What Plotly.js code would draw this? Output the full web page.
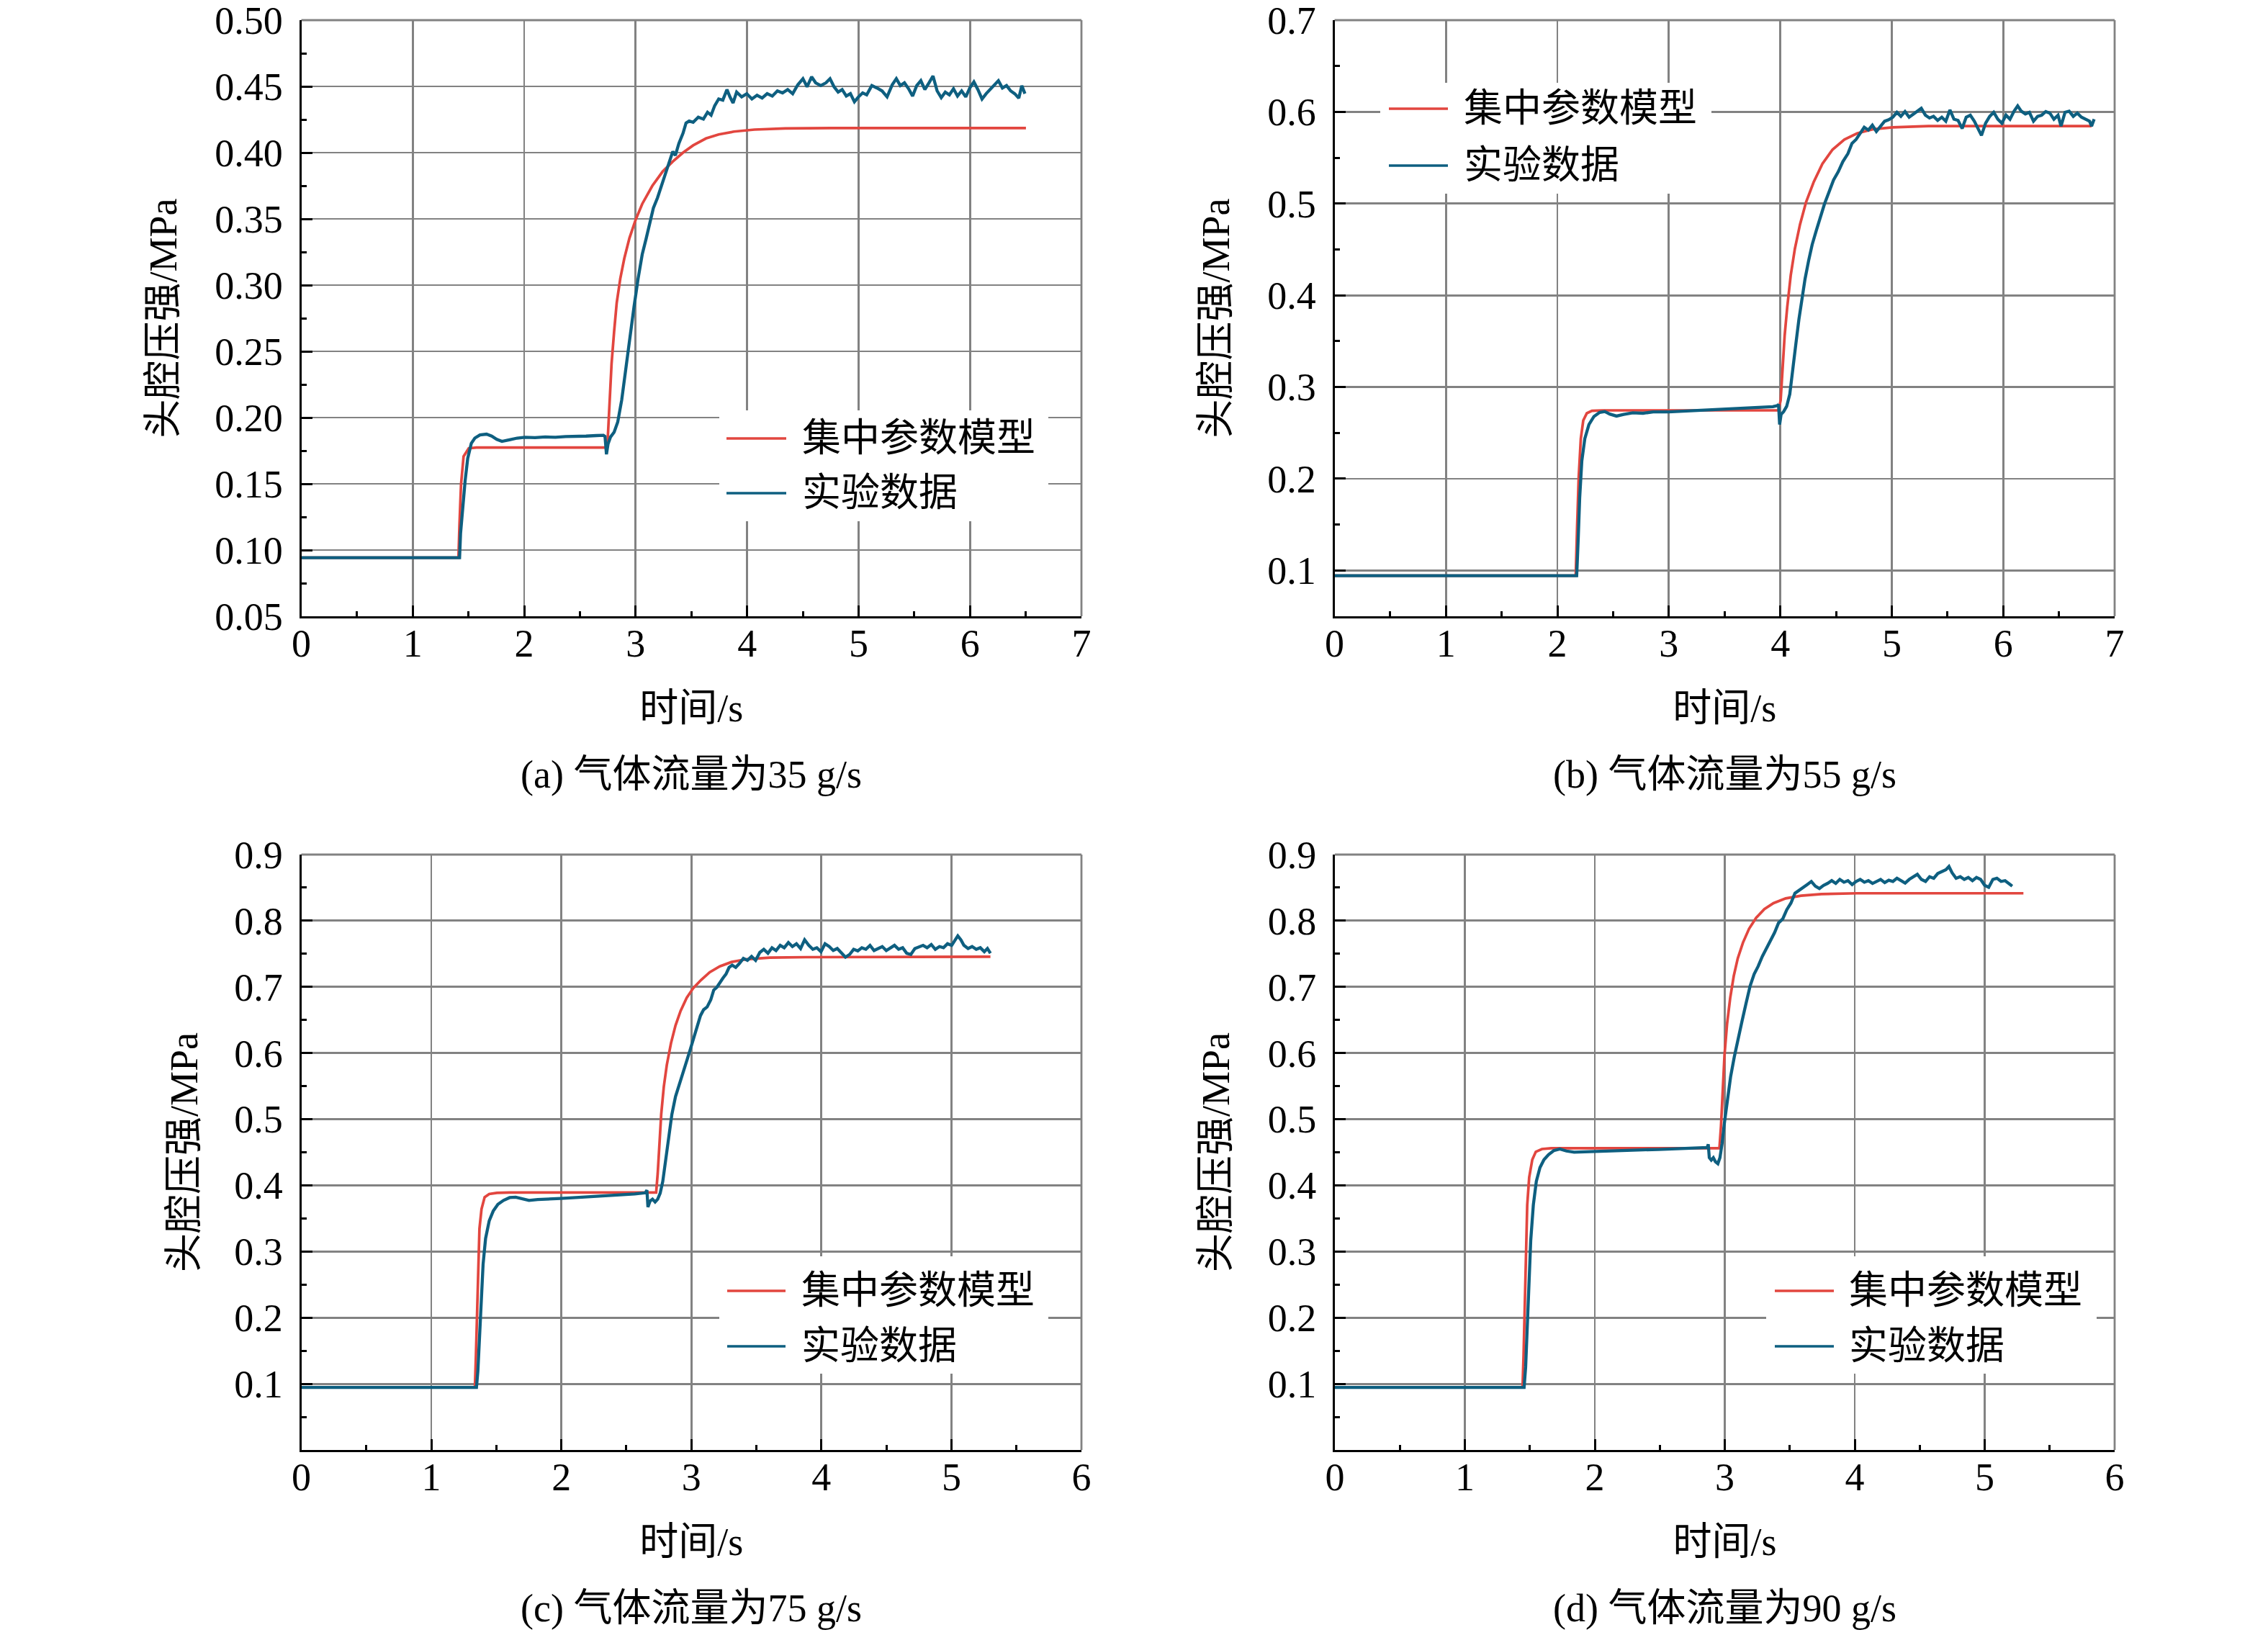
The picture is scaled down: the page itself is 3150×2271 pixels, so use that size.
<!DOCTYPE html>
<html>
<head>
<meta charset="utf-8">
<script src="https://cdn.plot.ly/plotly-3.0.1.min.js"></script>
<style>
html,body{margin:0;padding:0;background:#fff;}
#chart{width:3150px;height:2271px;}
</style>
</head>
<body>
<div id="chart"></div>
<script>
// ---------------- data: [time (s), pressure (MPa)] ----------------
const seriesNames = ['集中参数模型', '实验数据'];
const panelCaptions = ['(a) 气体流量为35 g/s', '(b) 气体流量为55 g/s', '(c) 气体流量为75 g/s', '(d) 气体流量为90 g/s'];
const xTitle = '时间/s';
const yTitle = '头腔压强/MPa';

const modelA = [[0,0.0942],[1.41,0.0942],[1.419,0.1189],[1.433,0.1494],[1.456,0.1707],[1.502,0.1768],[1.571,0.1774],[2.729,0.1774],[2.747,0.1799],[2.766,0.2104],[2.784,0.2409],[2.807,0.2652],[2.830,0.2866],[2.862,0.3049],[2.898,0.3201],[2.944,0.3354],[2.999,0.3491],[3.059,0.3613],[3.150,0.3750],[3.242,0.3857],[3.333,0.3933],[3.425,0.4000],[3.516,0.4055],[3.631,0.4107],[3.745,0.4137],[3.883,0.4159],[4.066,0.4174],[4.341,0.4183],[4.753,0.4186],[6.502,0.4186]];

const expA = [[0,0.0942],[1.42,0.0942],[1.429,0.1128],[1.447,0.1311],[1.470,0.1524],[1.493,0.1692],[1.525,0.1805],[1.557,0.1845],[1.603,0.1869],[1.662,0.1875],[1.708,0.1860],[1.754,0.1835],[1.800,0.1820],[1.868,0.1832],[1.937,0.1845],[2.005,0.1851],[2.097,0.1848],[2.189,0.1854],[2.280,0.1851],[2.372,0.1857],[2.463,0.1856],[2.555,0.1860],[2.647,0.1864],[2.711,0.1866],[2.725,0.1858],[2.738,0.1723],[2.752,0.1800],[2.775,0.1854],[2.807,0.1890],[2.839,0.1966],[2.875,0.2134],[2.912,0.2378],[2.949,0.2622],[2.985,0.2835],[3.022,0.3049],[3.059,0.3232],[3.095,0.3354],[3.127,0.3460],[3.159,0.3582],[3.196,0.3659],[3.233,0.3750],[3.269,0.3841],[3.306,0.3933],[3.333,0.4009],[3.356,0.3979],[3.388,0.4070],[3.425,0.4146],[3.452,0.4223],[3.480,0.4238],[3.516,0.4229],[3.562,0.4268],[3.608,0.4253],[3.645,0.4305],[3.677,0.4283],[3.709,0.4354],[3.745,0.4405],[3.782,0.4396],[3.819,0.4476],[3.846,0.4421],[3.874,0.4375],[3.906,0.4457],[3.951,0.4421],[3.997,0.4445],[4.043,0.4405],[4.089,0.4433],[4.135,0.4412],[4.180,0.4445],[4.226,0.4427],[4.272,0.4466],[4.318,0.4451],[4.364,0.4476],[4.409,0.4445],[4.455,0.4512],[4.501,0.4558],[4.538,0.4497],[4.579,0.4573],[4.615,0.4527],[4.661,0.4506],[4.707,0.4527],[4.744,0.4558],[4.780,0.4497],[4.817,0.4457],[4.853,0.4476],[4.890,0.4427],[4.927,0.4445],[4.963,0.4384],[5.000,0.4421],[5.037,0.4451],[5.073,0.4436],[5.119,0.4506],[5.165,0.4488],[5.211,0.4466],[5.256,0.4421],[5.302,0.4512],[5.339,0.4558],[5.375,0.4506],[5.412,0.4527],[5.449,0.4482],[5.485,0.4427],[5.522,0.4506],[5.559,0.4543],[5.595,0.4476],[5.632,0.4527],[5.668,0.4579],[5.705,0.4466],[5.742,0.4415],[5.778,0.4457],[5.815,0.4436],[5.852,0.4482],[5.888,0.4427],[5.925,0.4466],[5.962,0.4421],[5.998,0.4488],[6.035,0.4534],[6.071,0.4476],[6.108,0.4405],[6.145,0.4445],[6.181,0.4476],[6.218,0.4506],[6.255,0.4543],[6.291,0.4488],[6.328,0.4506],[6.365,0.4466],[6.401,0.4445],[6.438,0.4412],[6.465,0.4506],[6.493,0.4445]];

const modelB = [[0,0.0942],[2.164,0.0942],[2.177,0.1489],[2.191,0.2018],[2.210,0.2437],[2.232,0.2635],[2.264,0.2714],[2.310,0.2741],[2.402,0.2745],[3.984,0.2745],[4.003,0.2855],[4.021,0.3252],[4.039,0.3561],[4.062,0.3869],[4.094,0.4222],[4.131,0.4509],[4.177,0.4773],[4.231,0.5016],[4.300,0.5236],[4.378,0.5435],[4.469,0.5589],[4.575,0.5699],[4.689,0.5765],[4.826,0.5810],[5.009,0.5832],[5.329,0.5845],[6.793,0.5845]];

const expB = [[0,0.0942],[2.173,0.0942],[2.187,0.1356],[2.200,0.1797],[2.219,0.2194],[2.246,0.2437],[2.283,0.2591],[2.328,0.2679],[2.379,0.2723],[2.425,0.2732],[2.470,0.2705],[2.530,0.2683],[2.594,0.2701],[2.676,0.2719],[2.768,0.2714],[2.859,0.2728],[2.996,0.2728],[3.134,0.2736],[3.271,0.2741],[3.408,0.2754],[3.545,0.2758],[3.683,0.2767],[3.820,0.2776],[3.934,0.2785],[3.975,0.2798],[3.984,0.2811],[3.994,0.2591],[4.007,0.2701],[4.030,0.2732],[4.057,0.2789],[4.085,0.2921],[4.112,0.3164],[4.140,0.3473],[4.167,0.3737],[4.195,0.3980],[4.222,0.4178],[4.254,0.4377],[4.286,0.4553],[4.323,0.4707],[4.360,0.4862],[4.396,0.4994],[4.437,0.5126],[4.478,0.5258],[4.520,0.5347],[4.561,0.5457],[4.607,0.5545],[4.643,0.5655],[4.680,0.5699],[4.716,0.5765],[4.753,0.5832],[4.790,0.5801],[4.826,0.5854],[4.862,0.5787],[4.899,0.5845],[4.936,0.5898],[4.973,0.5915],[5.009,0.5942],[5.046,0.5995],[5.082,0.5951],[5.119,0.6004],[5.156,0.5942],[5.192,0.5973],[5.229,0.6008],[5.265,0.6039],[5.302,0.5964],[5.339,0.5933],[5.375,0.5951],[5.412,0.5907],[5.449,0.5942],[5.485,0.5898],[5.522,0.6021],[5.558,0.5920],[5.595,0.5907],[5.632,0.5818],[5.668,0.5942],[5.705,0.5964],[5.741,0.5898],[5.778,0.5818],[5.805,0.5743],[5.842,0.5876],[5.879,0.5951],[5.915,0.5995],[5.952,0.5920],[5.988,0.5876],[6.025,0.5964],[6.061,0.5920],[6.098,0.6008],[6.130,0.6065],[6.162,0.6008],[6.199,0.5977],[6.235,0.5995],[6.272,0.5898],[6.309,0.5951],[6.345,0.5964],[6.382,0.6004],[6.419,0.5986],[6.455,0.5920],[6.492,0.5964],[6.519,0.5845],[6.555,0.5995],[6.592,0.6008],[6.629,0.5951],[6.665,0.5986],[6.702,0.5942],[6.738,0.5920],[6.775,0.5898],[6.793,0.5845],[6.816,0.5920]];

const modelC = [[0,0.0945],[1.335,0.0945],[1.343,0.1434],[1.351,0.2031],[1.358,0.2747],[1.370,0.3344],[1.386,0.3642],[1.410,0.3821],[1.445,0.3869],[1.504,0.3887],[1.602,0.3893],[2.729,0.3893],[2.741,0.4179],[2.752,0.4597],[2.768,0.5074],[2.788,0.5492],[2.811,0.5820],[2.843,0.6148],[2.878,0.6417],[2.917,0.6637],[2.964,0.6834],[3.015,0.6983],[3.074,0.7103],[3.141,0.7222],[3.219,0.7311],[3.310,0.7377],[3.428,0.7419],[3.604,0.7443],[3.879,0.7449],[5.300,0.7455]];

const expC = [[0,0.0945],[1.347,0.0945],[1.358,0.1196],[1.370,0.1733],[1.382,0.2270],[1.398,0.2807],[1.417,0.3195],[1.445,0.3463],[1.476,0.3612],[1.512,0.3714],[1.555,0.3773],[1.602,0.3815],[1.649,0.3821],[1.700,0.3791],[1.751,0.3773],[1.818,0.3785],[1.896,0.3797],[1.995,0.3803],[2.112,0.3815],[2.230,0.3827],[2.348,0.3839],[2.466,0.3857],[2.564,0.3869],[2.646,0.3887],[2.658,0.3928],[2.666,0.3672],[2.682,0.3761],[2.701,0.3791],[2.721,0.3749],[2.741,0.3791],[2.760,0.3881],[2.780,0.4060],[2.803,0.4418],[2.827,0.4776],[2.850,0.5074],[2.878,0.5343],[2.905,0.5522],[2.937,0.5730],[2.964,0.5880],[2.992,0.6058],[3.015,0.6208],[3.043,0.6387],[3.070,0.6566],[3.094,0.6655],[3.121,0.6697],[3.149,0.6804],[3.172,0.6953],[3.196,0.6995],[3.219,0.7073],[3.243,0.7133],[3.266,0.7192],[3.290,0.7294],[3.314,0.7329],[3.341,0.7294],[3.369,0.7353],[3.400,0.7431],[3.431,0.7401],[3.463,0.7461],[3.494,0.7401],[3.526,0.7520],[3.557,0.7568],[3.589,0.7508],[3.620,0.7592],[3.651,0.7550],[3.683,0.7628],[3.714,0.7592],[3.746,0.7669],[3.777,0.7610],[3.808,0.7652],[3.840,0.7580],[3.871,0.7711],[3.903,0.7628],[3.934,0.7568],[3.965,0.7592],[3.997,0.7532],[4.028,0.7652],[4.060,0.7610],[4.091,0.7550],[4.122,0.7580],[4.154,0.7508],[4.185,0.7449],[4.217,0.7490],[4.248,0.7568],[4.280,0.7544],[4.311,0.7592],[4.342,0.7568],[4.374,0.7628],[4.405,0.7550],[4.437,0.7580],[4.468,0.7610],[4.499,0.7550],[4.531,0.7592],[4.562,0.7628],[4.594,0.7568],[4.625,0.7592],[4.656,0.7508],[4.688,0.7490],[4.719,0.7580],[4.751,0.7610],[4.782,0.7628],[4.813,0.7592],[4.845,0.7640],[4.876,0.7568],[4.908,0.7610],[4.939,0.7592],[4.970,0.7652],[5.002,0.7628],[5.026,0.7699],[5.049,0.7771],[5.073,0.7711],[5.096,0.7628],[5.128,0.7580],[5.159,0.7610],[5.191,0.7568],[5.222,0.7592],[5.253,0.7532],[5.277,0.7580],[5.300,0.7508]];

const modelD = [[0,0.0945],[1.444,0.0945],[1.452,0.1434],[1.460,0.2150],[1.468,0.2986],[1.480,0.3702],[1.495,0.4119],[1.519,0.4388],[1.546,0.4507],[1.593,0.4549],[1.664,0.4561],[2.959,0.4561],[2.971,0.4895],[2.983,0.5432],[2.998,0.5969],[3.018,0.6446],[3.042,0.6834],[3.069,0.7162],[3.100,0.7431],[3.140,0.7669],[3.187,0.7878],[3.242,0.8045],[3.305,0.8177],[3.375,0.8266],[3.469,0.8338],[3.587,0.8379],[3.744,0.8403],[4.019,0.8415],[5.298,0.8415]];

const expD = [[0,0.0945],[1.456,0.0945],[1.468,0.1255],[1.480,0.1852],[1.491,0.2508],[1.507,0.3165],[1.527,0.3702],[1.550,0.4060],[1.578,0.4268],[1.609,0.4388],[1.644,0.4465],[1.684,0.4525],[1.731,0.4549],[1.782,0.4519],[1.841,0.4501],[1.919,0.4507],[2.017,0.4519],[2.135,0.4525],[2.253,0.4531],[2.370,0.4537],[2.488,0.4543],[2.606,0.4549],[2.724,0.4555],[2.841,0.4561],[2.865,0.4573],[2.873,0.4621],[2.881,0.4418],[2.896,0.4382],[2.912,0.4418],[2.928,0.4358],[2.947,0.4328],[2.963,0.4418],[2.979,0.4627],[2.998,0.4955],[3.022,0.5313],[3.045,0.5641],[3.073,0.5939],[3.100,0.6208],[3.132,0.6476],[3.163,0.6745],[3.195,0.7013],[3.226,0.7192],[3.257,0.7311],[3.289,0.7461],[3.320,0.7580],[3.352,0.7699],[3.383,0.7819],[3.414,0.7968],[3.446,0.8027],[3.477,0.8165],[3.509,0.8266],[3.540,0.8415],[3.571,0.8463],[3.603,0.8505],[3.634,0.8547],[3.666,0.8594],[3.697,0.8523],[3.728,0.8487],[3.760,0.8535],[3.791,0.8564],[3.823,0.8606],[3.854,0.8564],[3.885,0.8624],[3.917,0.8582],[3.948,0.8606],[3.980,0.8547],[4.011,0.8594],[4.042,0.8624],[4.074,0.8582],[4.105,0.8606],[4.137,0.8564],[4.168,0.8594],[4.199,0.8624],[4.231,0.8576],[4.262,0.8612],[4.294,0.8594],[4.325,0.8642],[4.356,0.8606],[4.388,0.8570],[4.419,0.8624],[4.451,0.8666],[4.482,0.8702],[4.513,0.8624],[4.545,0.8594],[4.576,0.8666],[4.608,0.8642],[4.639,0.8714],[4.670,0.8743],[4.702,0.8773],[4.725,0.8821],[4.749,0.8726],[4.780,0.8642],[4.812,0.8666],[4.843,0.8624],[4.874,0.8654],[4.906,0.8606],[4.937,0.8654],[4.969,0.8624],[5.000,0.8535],[5.031,0.8505],[5.063,0.8624],[5.094,0.8642],[5.126,0.8594],[5.157,0.8606],[5.188,0.8564],[5.212,0.8523]];

// tick values
const yTicksA = [0.05,0.10,0.15,0.20,0.25,0.30,0.35,0.40,0.45,0.50];
const yTicksB = [0.1,0.2,0.3,0.4,0.5,0.6,0.7];
const yTicksCD = [0.1,0.2,0.3,0.4,0.5,0.6,0.7,0.8,0.9];

// ---------------- styling ----------------
const W = 3150, H = 2271;
const FONT = "'Liberation Serif', 'Times New Roman', 'Noto Sans CJK SC', serif";
const FS = 54;
const RED = '#E2463F';
const BLUE = '#0E5F80';
const GRID = '#828282';
const px = x => x / W;
const py = y => 1 - y / H;

// plot areas in pixels: [left, right, top, bottom]
const boxes = [[418.5,1502,28,856],[1853.5,2937,28,856],[418.5,1502,1187,2014],[1854,2937,1187,2014]];
const yTitleStandoff = [36, 36, 34, 36];

function xAxis(i, range) {
  const b = boxes[i];
  return {
    domain: [px(b[0]), px(b[1])], anchor: 'y' + (i ? i + 1 : ''),
    range: range, tickmode: 'linear', tick0: 0, dtick: 1,
    showline: true, linecolor: '#000', linewidth: 3,
    ticks: 'inside', ticklen: 15, tickwidth: 3, tickcolor: '#000',
    showgrid: true, gridcolor: GRID, gridwidth: 2.8, zeroline: false,
    minor: {ticks: 'inside', ticklen: 7, tickwidth: 3, tickcolor: '#000', dtick: 0.5, tick0: 0, showgrid: false},
    tickfont: {family: FONT, size: FS, color: '#000'},
    ticklabelstandoff: -12, ticklabeloverflow: 'allow',
    title: {text: xTitle, font: {family: FONT, size: FS, color: '#000'}, standoff: 42},
    fixedrange: true
  };
}
function yAxis(i, range, vals, fmt) {
  const b = boxes[i];
  return {
    domain: [py(b[3]), py(b[2])], anchor: 'x' + (i ? i + 1 : ''),
    range: range, tickmode: 'array', tickvals: vals, tickformat: fmt,
    showline: true, linecolor: '#000', linewidth: 3,
    ticks: 'inside', ticklen: 15, tickwidth: 3, tickcolor: '#000',
    showgrid: true, gridcolor: GRID, gridwidth: 2.8, zeroline: false,
    minor: {ticks: 'inside', ticklen: 7, tickwidth: 3, tickcolor: '#000', dtick: (i === 0 ? 0.025 : 0.05), tick0: (i === 1 ? 0.05 : 0), showgrid: false},
    tickfont: {family: FONT, size: FS, color: '#000'},
    ticklabelstandoff: 12, ticklabeloverflow: 'allow',
    title: {text: yTitle, font: {family: FONT, size: FS, color: '#000'}, standoff: yTitleStandoff[i]},
    fixedrange: true
  };
}

const models = [modelA, modelB, modelC, modelD];
const exps = [expA, expB, expC, expD];
const traces = [];
for (let i = 0; i < 4; i++) {
  const xa = 'x' + (i ? i + 1 : ''), ya = 'y' + (i ? i + 1 : '');
  traces.push({type: 'scatter', mode: 'lines', name: seriesNames[0], x: models[i].map(p => p[0]), y: models[i].map(p => p[1]),
    xaxis: xa, yaxis: ya, line: {color: RED, width: 3.7}, showlegend: false, hoverinfo: 'skip'});
  traces.push({type: 'scatter', mode: 'lines', name: seriesNames[1], x: exps[i].map(p => p[0]), y: exps[i].map(p => p[1]),
    xaxis: xa, yaxis: ya, line: {color: BLUE, width: 4.3}, showlegend: false, hoverinfo: 'skip'});
}

// legend boxes (pixels): [boxLeft, boxRight, boxTop, boxBottom, lineX0, lineX1, redY, blueY, textX]
const legends = [
  [999,1456,570,724,1009,1092,609,685,1112],
  [1917,2377,115,269,1929,2011,151,230,2031],
  [999,1456,1745,1908,1010,1091,1793,1870,1111],
  [2453,2912,1745,1908,2465,2547,1793,1870,2566]
];

const shapes = [], annotations = [];
boxes.forEach(b => {
  // grey frame on top and right
  shapes.push({type: 'line', xref: 'paper', yref: 'paper', x0: px(b[0]), x1: px(b[1]), y0: py(b[2]), y1: py(b[2]), line: {color: GRID, width: 2.8}, layer: 'below'});
  shapes.push({type: 'line', xref: 'paper', yref: 'paper', x0: px(b[1]), x1: px(b[1]), y0: py(b[3]), y1: py(b[2]), line: {color: GRID, width: 2.8}, layer: 'below'});
});
legends.forEach(l => {
  shapes.push({type: 'rect', xref: 'paper', yref: 'paper', x0: px(l[0]), x1: px(l[1]), y0: py(l[3]), y1: py(l[2]), fillcolor: '#fff', line: {width: 0}, layer: 'above'});
  shapes.push({type: 'line', xref: 'paper', yref: 'paper', x0: px(l[4]), x1: px(l[5]), y0: py(l[6]), y1: py(l[6]), line: {color: RED, width: 3.4}, layer: 'above'});
  shapes.push({type: 'line', xref: 'paper', yref: 'paper', x0: px(l[4]), x1: px(l[5]), y0: py(l[7]), y1: py(l[7]), line: {color: BLUE, width: 3.4}, layer: 'above'});
  annotations.push({xref: 'paper', yref: 'paper', x: px(l[8]), y: py(l[6]), xanchor: 'left', yanchor: 'middle', showarrow: false, text: seriesNames[0], font: {family: FONT, size: FS, color: '#000'}});
  annotations.push({xref: 'paper', yref: 'paper', x: px(l[8]), y: py(l[7]), xanchor: 'left', yanchor: 'middle', showarrow: false, text: seriesNames[1], font: {family: FONT, size: FS, color: '#000'}});
});
boxes.forEach((b, i) => {
  annotations.push({xref: 'paper', yref: 'paper', x: px((b[0] + b[1]) / 2), y: py(b[3] + 220), xanchor: 'center', yanchor: 'middle', showarrow: false,
    text: panelCaptions[i], font: {family: FONT, size: FS, color: '#000'}});
});

const layout = {
  width: W, height: H,
  margin: {l: 0, r: 0, t: 0, b: 0},
  paper_bgcolor: '#fff', plot_bgcolor: '#fff',
  showlegend: false,
  font: {family: FONT, size: FS, color: '#000'},
  xaxis: xAxis(0, [0, 7]),
  xaxis2: xAxis(1, [0, 7]),
  xaxis3: xAxis(2, [0, 6]),
  xaxis4: xAxis(3, [0, 6]),
  yaxis: yAxis(0, [0.05, 0.5], yTicksA, '.2f'),
  yaxis2: yAxis(1, [0.05, 0.7], yTicksB, '.1f'),
  yaxis3: yAxis(2, [0, 0.9], yTicksCD, '.1f'),
  yaxis4: yAxis(3, [0, 0.9], yTicksCD, '.1f'),
  shapes: shapes,
  annotations: annotations
};

Plotly.newPlot('chart', traces, layout, {staticPlot: true, displayModeBar: false});
</script>
</body>
</html>
